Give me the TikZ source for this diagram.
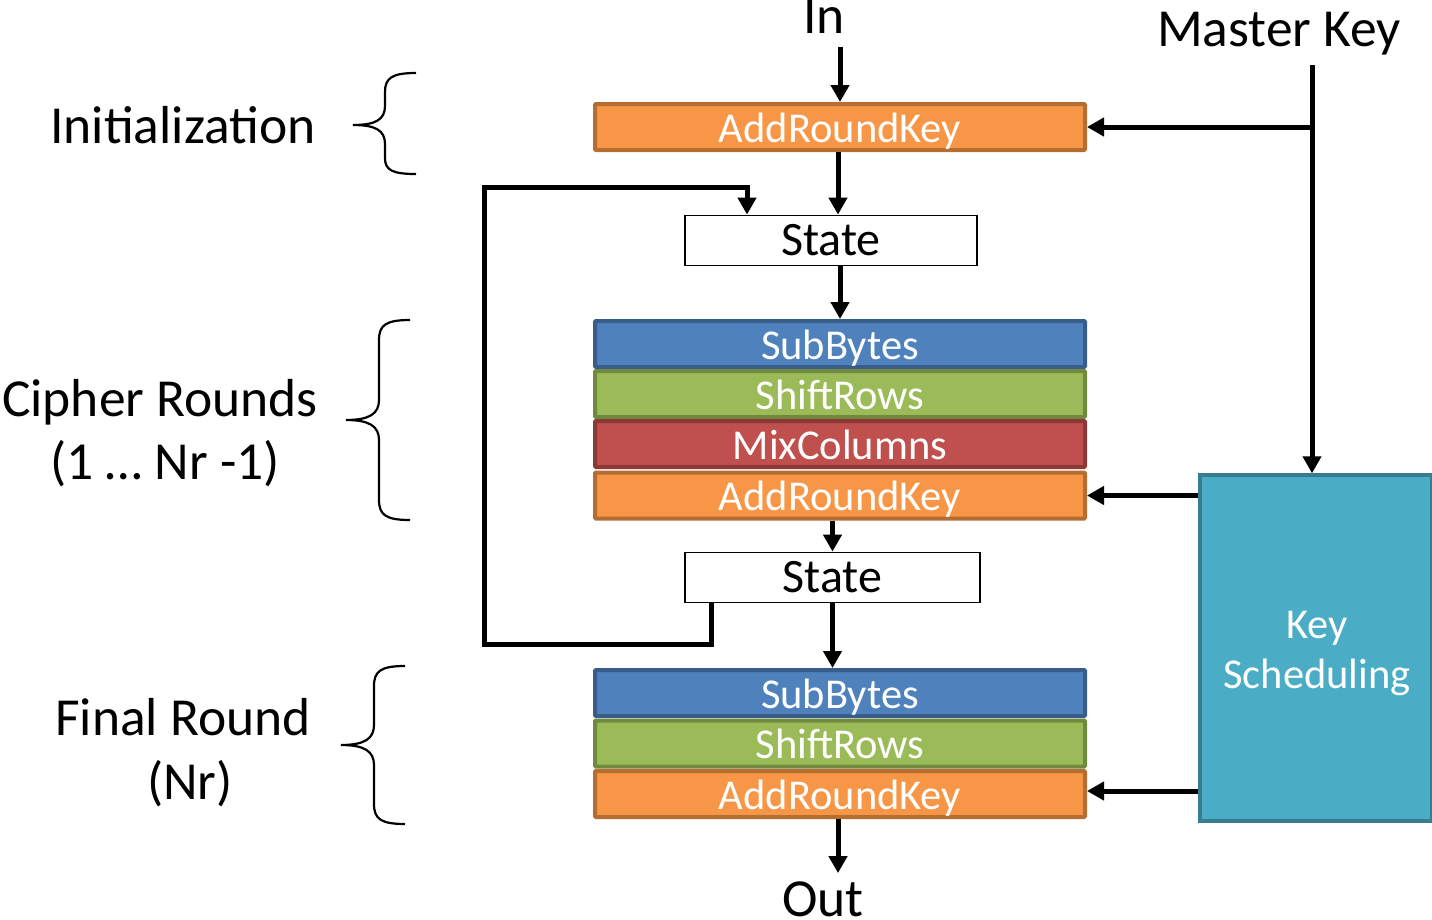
\documentclass[tikz,border=0pt]{standalone}
\usepackage{fontspec}
\setmainfont{Carlito}
\usetikzlibrary{arrows.meta,calc}
\definecolor{orF}{HTML}{F79646}\definecolor{orD}{HTML}{B66D31}
\definecolor{blF}{HTML}{4F81BD}\definecolor{blD}{HTML}{385D8A}
\definecolor{grF}{HTML}{9BBB59}\definecolor{grD}{HTML}{71893F}
\definecolor{rdF}{HTML}{C0504D}\definecolor{rdD}{HTML}{8C3836}
\definecolor{tlF}{HTML}{4BACC6}\definecolor{tlD}{HTML}{357D91}
\tikzset{
  stagebox/.style={draw, line width=4pt, minimum width=490pt, minimum height=46pt, inner sep=0pt,
    text=white, font=\fontsize{42.5}{50}\selectfont, rounded corners=1pt,
    text height=32pt, text depth=2pt},
  ark/.style={stagebox, fill=orF, draw=orD},
  sbx/.style={stagebox, fill=blF, draw=blD},
  srx/.style={stagebox, fill=grF, draw=grD},
  mcx/.style={stagebox, fill=rdF, draw=rdD},
  statebox/.style={draw, line width=1.8pt, fill=white, minimum height=50pt, inner sep=0pt,
    font=\fontsize{48}{56}\selectfont, text height=33pt, text depth=4pt},
  biglabel/.style={font=\fontsize{53.5}{63}\selectfont, inner sep=0pt, align=center},
  kstext/.style={text=white, align=center, inner sep=0pt, font=\fontsize{42.5}{50}\selectfont},
  arr/.style={line width=5pt, -{Triangle[width=18pt,length=17pt]}},
  brace/.style={line width=2.2pt},
}
\begin{document}
\begin{tikzpicture}[x=1pt,y=-1pt]
\useasboundingbox (0,0) rectangle (1432,919);
% top stage
\node[ark] (ark0) at (840,127) {AddRoundKey};
\node[statebox, minimum width=292pt] (state1) at (831,240.5) {State};
% cipher round stack
\node[sbx] (sb1) at (840,344) {SubBytes};
\node[srx] (sr1) at (840,394) {ShiftRows};
\node[mcx] (mc1) at (840,444) {MixColumns};
\node[ark] (ark1) at (840,495.5) {AddRoundKey};
\node[statebox, minimum width=295pt] (state2) at (832.5,577.5) {State};
% final round stack
\node[sbx] (sb2) at (840,693) {SubBytes};
\node[srx] (sr2) at (840,743.5) {ShiftRows};
\node[ark] (ark2) at (840,794) {AddRoundKey};
% key scheduling
\node[draw=tlD, fill=tlF, line width=3.5pt, minimum width=232pt, minimum height=346pt, inner sep=0pt] (ks) at (1316,648) {};
\node[kstext] (kslabel) at ($(ks.center)+(1,6)$) {Key\\Scheduling};
% labels
\node[biglabel, anchor=base] (in) at (824,33) {In};
\node[biglabel, anchor=base] (out) at (823,916) {Out};
\node[biglabel, anchor=base] (mk) at (1279,46) {Master Key};
\node[biglabel, anchor=base] (linit) at (183,143) {Initialization};
\node[biglabel, anchor=base] (lciph1) at (160,416) {Cipher Rounds};
\node[biglabel, anchor=base] (lciph2) at (165,479) {(1 … Nr -1)};
\node[biglabel, anchor=base] (lfin1) at (183,735) {Final Round};
\node[biglabel, anchor=base] (lfin2) at (190,799) {(Nr)};
% connectors
\draw[arr] ([yshift=-14pt]in.south -| ark0.north) -- (ark0.north);
\coordinate (mkd) at (1312,65);
\draw[arr] (mkd) -- (mkd |- ks.north);
\draw[arr] (mkd |- ark0.east) -- (ark0.east);
\draw[arr] ($(ark0.south)+(-2,0)$) -- ($(ark0.south |- state1.north)+(-2,0)$);
\draw[arr] (state1.south -| sb1.north) -- (sb1.north);
\draw[arr] (ark1.south -| state2.north) -- (state2.north);
\draw[arr] (state2.south) -- (state2.south |- sb2.north);
\draw[arr] ($(ark2.south)+(-2,0)$) -- ($(ark2.south |- out.north)+(-2,-8)$);
\draw[arr] (ks.west |- ark1.east) -- (ark1.east);
\draw[arr] ([yshift=3pt]ks.west |- ark2.east) -- ([yshift=3pt]ark2.east);
% feedback loop
\coordinate (l1) at (711,644);
\coordinate (l2) at (484,187);
\draw[arr] (l1 |- state2.south) -- (l1) -| (l2) -| ([xshift=-84pt]state1.north);
% braces
\draw[brace] (416,73) .. controls (392,73) and (385,78) .. (385,92) -- (385,106)
  .. controls (385,120) and (375,125) .. (353,125)
  .. controls (375,125) and (385,130) .. (385,144) -- (385,158)
  .. controls (385,170) and (392,174) .. (416,174);
\draw[brace] (410,320) .. controls (386,320) and (379,325) .. (379,340) -- (379,400)
  .. controls (379,414) and (369,420) .. (346,420)
  .. controls (369,420) and (379,426) .. (379,440) -- (379,500)
  .. controls (379,515) and (386,520) .. (410,520);
\draw[brace] (405,666) .. controls (381,666) and (374,671) .. (374,686) -- (374,725)
  .. controls (374,739) and (364,745) .. (341,745)
  .. controls (364,745) and (374,751) .. (374,765) -- (374,804)
  .. controls (374,819) and (381,824) .. (405,824);
\end{tikzpicture}
\end{document}
